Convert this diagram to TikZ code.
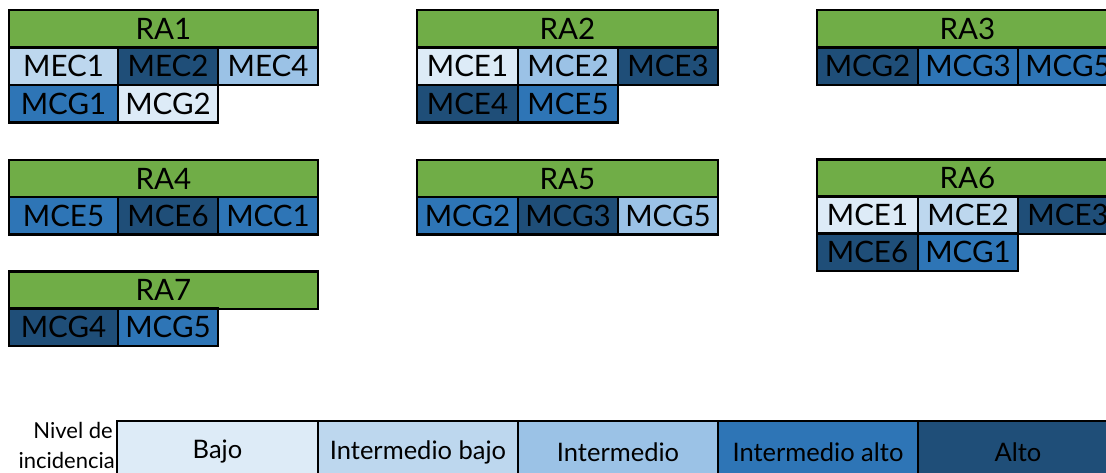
\documentclass[tikz,border=0pt]{standalone}
\usepackage{fontspec}
\setmainfont{Lato}
\definecolor{hdrgreen}{HTML}{70AD47}
\definecolor{lvlA}{HTML}{DDEBF7}% Bajo
\definecolor{lvlB}{HTML}{BDD7EE}% Intermedio bajo
\definecolor{lvlC}{HTML}{9BC2E6}% Intermedio
\definecolor{lvlD}{HTML}{2E75B6}% Intermedio alto
\definecolor{lvlE}{HTML}{1F4E78}% Alto
\newcommand\cellfont{\fontsize{29.5}{29.5}\selectfont}
\newcommand\legfont{\fontsize{25.5}{25.5}\selectfont}
\newcommand\tagfont{\fontsize{22}{22}\selectfont}
\begin{document}
\begin{tikzpicture}[x=1pt,y=-1pt,
  box/.style={draw=black, line width=2.8pt, inner sep=0pt, outer sep=0pt,
    anchor=north west, minimum height=37.5pt, font=\cellfont, text=black},
  hdr/.style={box, fill=hdrgreen},
  c1/.style={box, minimum width=109pt},
  cc/.style={box, minimum width=100pt},
  leg/.style={draw=black, line width=2.2pt, inner sep=0pt, outer sep=0pt,
    anchor=north west, minimum height=62pt, minimum width=200pt,
    font=\legfont, text=black},
  tag/.style={anchor=base east, inner sep=0pt, font=\tagfont, text=black}]
\path[use as bounding box, clip] (0,0) rectangle (1106,472);
\fill[white] (0,0) rectangle (1106,472);

% ---- RA1
\node[hdr, minimum width=309pt] (ra1) at (9,10) {RA1};
\node[c1, fill=lvlB] (ra1a) at (9,47.5) {MEC1};
\node[cc, fill=lvlE] (ra1b) at (118,47.5) {MEC2};
\node[cc, fill=lvlC] (ra1c) at (218,47.5) {MEC4};
\node[c1, fill=lvlD] (ra1d) at (9,85) {MCG1};
\node[cc, fill=lvlA] (ra1e) at (118,85) {MCG2};

% ---- RA2
\node[hdr, minimum width=301pt] (ra2) at (417,10) {RA2};
\node[cc, minimum width=101pt, fill=lvlA] (ra2a) at (417,47.5) {MCE1};
\node[cc, fill=lvlC] (ra2b) at (518,47.5) {MCE2};
\node[cc, fill=lvlE] (ra2c) at (618,47.5) {MCE3};
\node[cc, minimum width=101pt, fill=lvlE] (ra2d) at (417,85) {MCE4};
\node[cc, fill=lvlD] (ra2e) at (518,85) {MCE5};

% ---- RA3
\node[hdr, minimum width=301pt] (ra3) at (817,10) {RA3};
\node[cc, minimum width=101pt, fill=lvlE] (ra3a) at (817,47.5) {MCG2};
\node[cc, fill=lvlD] (ra3b) at (918,47.5) {MCG3};
\node[cc, fill=lvlD] (ra3c) at (1018,47.5) {MCG5};

% ---- RA4
\node[hdr, minimum width=309pt] (ra4) at (9,160) {RA4};
\node[c1, fill=lvlD] (ra4a) at (9,197) {MCE5};
\node[cc, fill=lvlE] (ra4b) at (118,197) {MCE6};
\node[cc, fill=lvlD] (ra4c) at (218,197) {MCC1};

% ---- RA5
\node[hdr, minimum width=301pt] (ra5) at (417,160) {RA5};
\node[cc, minimum width=101pt, fill=lvlD] (ra5a) at (417,197) {MCG2};
\node[cc, fill=lvlE] (ra5b) at (518,197) {MCG3};
\node[cc, fill=lvlC] (ra5c) at (618,197) {MCG5};

% ---- RA6
\node[hdr, minimum width=301pt] (ra6) at (817,159.5) {RA6};
\node[cc, minimum width=101pt, fill=lvlA] (ra6a) at (817,196.5) {MCE1};
\node[cc, fill=lvlB] (ra6b) at (918,196.5) {MCE2};
\node[cc, fill=lvlE] (ra6c) at (1018,196.5) {MCE3};
\node[cc, minimum width=101pt, fill=lvlE] (ra6d) at (817,233.5) {MCE6};
\node[cc, fill=lvlD] (ra6e) at (918,233.5) {MCG1};

% ---- RA7
\node[hdr, minimum width=309pt] (ra7) at (9,271.5) {RA7};
\node[c1, fill=lvlE] (ra7a) at (9,308.5) {MCG4};
\node[cc, fill=lvlD] (ra7b) at (118,308.5) {MCG5};

% ---- legend
\node[tag] (niv1) at (113,438) {Nivel de};
\node[tag] (niv2) at (115,468) {incidencia};
\node[leg, minimum width=201pt, fill=lvlA] (lg1) at (117,421) {Bajo};
\node[leg, fill=lvlB] (lg2) at (318,421) {Intermedio bajo};
\node[leg, fill=lvlC] (lg3) at (518,421) {Intermedio};
\node[leg, fill=lvlD] (lg4) at (718,421) {Intermedio alto};
\node[leg, fill=lvlE] (lg5) at (918,421) {Alto};
\end{tikzpicture}
\end{document}
